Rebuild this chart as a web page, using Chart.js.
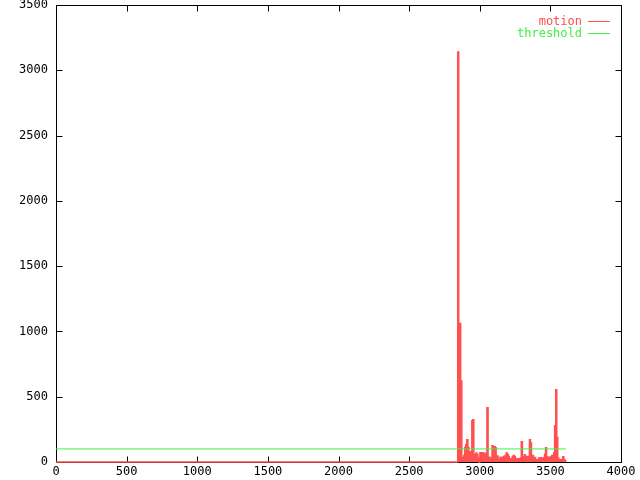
<!DOCTYPE html>
<html><head><meta charset="utf-8">
<script src="https://cdn.jsdelivr.net/npm/chart.js@4.4.0/dist/chart.umd.min.js"></script>
<style>html,body{margin:0;padding:0;background:#fff}#wrap{width:640px;height:480px}</style>
</head><body><div id="wrap"><canvas id="c" width="640" height="480"></canvas></div>
<script>
const frames = [0,
2844,2851,2858,2865,2873,2880,2887,2894,2901,2908,
2916,2923,2930,2937,2944,2951,2958,2966,2973,2980,
2987,2994,3001,3008,3016,3023,3030,3037,3044,3051,
3059,3066,3073,3080,3087,3094,3101,3109,3116,3123,
3130,3137,3144,3151,3159,3166,3173,3180,3187,3194,
3202,3209,3216,3223,3230,3237,3244,3252,3259,3266,
3273,3280,3287,3294,3302,3309,3316,3323,3330,3337,
3345,3352,3359,3366,3373,3380,3387,3395,3402,3409,
3416,3423,3430,3437,3445,3452,3459,3466,3473,3480,
3488,3495,3502,3509,3516,3523,3530,3538,3545,3552,
3559,3566,3573,3580,3588,3595,3602,3609];
const motion = [0,
3140,600,1060,620,35,35,50,112,132,171,
112,25,79,33,316,324,56,56,69,58,
28,0,71,71,71,8,67,67,67,416,
24,37,30,20,125,40,117,110,24,45,
22,22,37,24,33,43,37,50,68,58,
43,24,24,24,40,50,43,24,17,24,
17,24,30,155,35,40,56,40,40,43,
28,171,145,33,50,35,35,17,17,17,
30,28,33,20,28,33,60,110,40,37,
35,28,40,50,50,68,278,553,188,30,
17,12,17,20,40,20,10,0];
const thresholdX = [0, 3609];
const thresholdY = [100, 100];
const xTicks = [0,500,1000,1500,2000,2500,3000,3500,4000];
const yTicks = [0,500,1000,1500,2000,2500,3000,3500];
const seriesNames = ['motion','threshold'];
const seriesColors = ['#ff5050','#44ee44'];

const FONT = '12px "DejaVu Sans Mono", "Liberation Mono", monospace';

const framePlugin = {
  id: 'frame',
  beforeDatasetsDraw(chart) {
    const {ctx, chartArea: a, scales: {x, y}} = chart;
    ctx.save();
    ctx.strokeStyle = '#000';
    ctx.lineWidth = 1;
    const L = Math.round(a.left) + 0.5, R = Math.round(a.right) + 0.5;
    const T = Math.round(a.top) + 0.5, B = Math.round(a.bottom) + 0.5;
    ctx.beginPath();
    ctx.rect(L, T, R - L, B - T);
    xTicks.forEach(v => {
      const px = Math.round(x.getPixelForValue(v)) + 0.5;
      ctx.moveTo(px, B); ctx.lineTo(px, B - 6);
      ctx.moveTo(px, T); ctx.lineTo(px, T + 6);
    });
    yTicks.forEach(v => {
      const py = Math.round(y.getPixelForValue(v)) + 0.5;
      ctx.moveTo(L, py); ctx.lineTo(L + 6, py);
      ctx.moveTo(R, py); ctx.lineTo(R - 6, py);
    });
    ctx.stroke();
    ctx.restore();
  },
  afterDatasetsDraw(chart) {
    const {ctx} = chart;
    ctx.save();
    ctx.font = FONT;
    ctx.textAlign = 'right';
    ctx.textBaseline = 'middle';
    seriesNames.forEach((name, i) => {
      const yy = 21 + i * 12;
      ctx.fillStyle = seriesColors[i];
      ctx.fillText(name, 582, yy + 1);
      ctx.fillRect(588, yy, 22, 1);
    });
    ctx.restore();
  }
};

const motionData = frames.map((f, i) => ({x: f, y: motion[i]}));
const thresholdData = thresholdX.map((f, i) => ({x: f, y: thresholdY[i]}));

new Chart(document.getElementById('c'), {
  type: 'line',
  data: {
    datasets: [
      {label: seriesNames[1], data: thresholdData, borderColor: seriesColors[1], borderWidth: 1, pointRadius: 0, fill: false, order: 0, clip: 3},
      {label: seriesNames[0], data: motionData, borderColor: seriesColors[0], backgroundColor: seriesColors[0], borderWidth: 1.5, pointRadius: 0, stepped: true, fill: 'origin', order: 1, clip: 3}
    ]
  },
  options: {
    responsive: false,
    animation: false,
    layout: {padding: {top: 5, right: 19, left: 0, bottom: 0}},
    plugins: {legend: {display: false}, tooltip: {enabled: false}},
    scales: {
      x: {
        type: 'linear', min: 0, max: 4000,
        afterBuildTicks: s => { s.ticks = xTicks.map(v => ({value: v})); },
        afterFit: s => { s.height = 18; s.paddingLeft = 0; s.paddingRight = 0; },
        grid: {display: false, drawTicks: false},
        border: {display: false},
        ticks: {color: '#000', font: {family: '"DejaVu Sans Mono", monospace', size: 12}, padding: 3, maxRotation: 0, autoSkip: false, callback: v => String(v)}
      },
      y: {
        type: 'linear', min: 0, max: 3500,
        afterBuildTicks: s => { s.ticks = yTicks.map(v => ({value: v})); },
        afterFit: s => { s.width = 56; s.paddingTop = 0; s.paddingBottom = 0; },
        grid: {display: false, drawTicks: false},
        border: {display: false},
        ticks: {color: '#000', font: {family: '"DejaVu Sans Mono", monospace', size: 12}, padding: 8, autoSkip: false, callback: v => String(v)}
      }
    }
  },
  plugins: [framePlugin]
});
</script>
</body></html>
